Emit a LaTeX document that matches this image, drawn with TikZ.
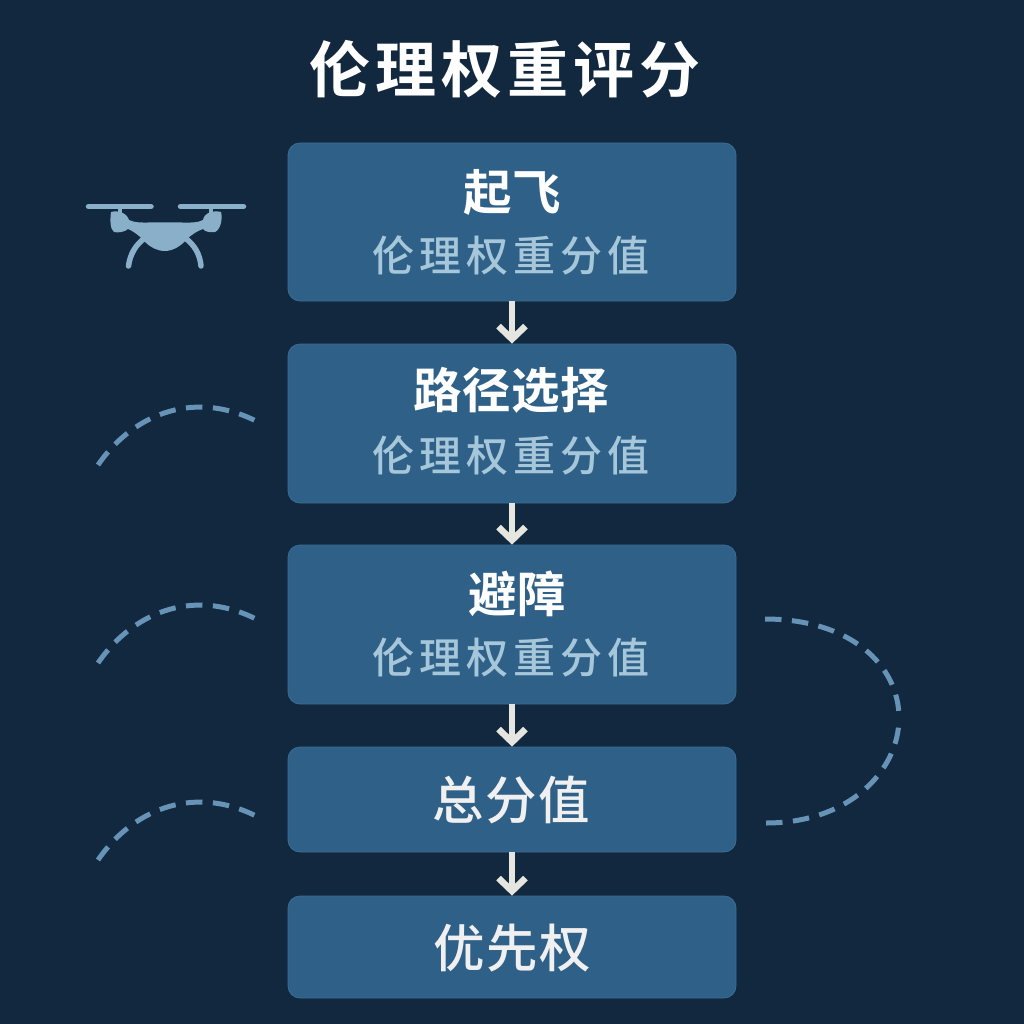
\documentclass[tikz,border=0pt]{standalone}
\usepackage{fontspec}
\usetikzlibrary{arrows.meta}
\newfontfamily\cjkbold[LetterSpace=8.5]{Noto Sans CJK SC Bold}
\newfontfamily\cjkhead[LetterSpace=1]{Noto Sans CJK SC Bold}
\newfontfamily\cjkmed[LetterSpace=3]{Noto Sans CJK SC Medium}
\newfontfamily\cjksub[LetterSpace=12]{Noto Sans CJK SC Medium}
\definecolor{bgc}{HTML}{12283F}
\definecolor{boxc}{HTML}{2F6188}
\definecolor{boxl}{HTML}{3A6D96}
\definecolor{subc}{HTML}{A6C6DA}
\definecolor{arrc}{HTML}{E6E6E1}
\definecolor{dronec}{HTML}{8AAFC9}
\definecolor{dashc}{HTML}{6794B6}
\tikzset{
  stage/.style={rounded corners=12pt,fill=boxc,draw=boxl,line width=0.8pt,minimum width=448pt},
  headtext/.style={text=white,font=\fontsize{48.5}{49}\selectfont\cjkhead,inner sep=0pt},
  subtext/.style={text=subc,font=\fontsize{42}{42}\selectfont\cjksub,inner sep=0pt},
  bigtext/.style={text=white!94!black,font=\fontsize{51.5}{52}\selectfont\cjkmed,inner sep=0pt},
  flow/.style={draw=arrc,line width=6.5pt,-{Straight Barb[length=13pt,width=27pt,line width=6.5pt]}},
  trail/.style={draw=dashc,line width=5pt,dash pattern=on 16.5pt off 10.5pt},
  droneparts/.style={fill=dronec,draw=none},
  dronelines/.style={draw=dronec,line cap=round}
}
\begin{document}
\begin{tikzpicture}[x=1pt,y=-1pt]
\useasboundingbox (0,0) rectangle (1024,1024);
\fill[bgc] (0,0) rectangle (1024,1024);

\node[text=white,font=\fontsize{61}{61}\selectfont\cjkbold,inner sep=0pt] (title) at (505,69) {伦理权重评分};

\node[stage,minimum height=158pt] (b1) at (512,222) {};
\node[stage,minimum height=159pt] (b2) at (512,423.5) {};
\node[stage,minimum height=159pt] (b3) at (512,624.5) {};
\node[stage,minimum height=105pt] (b4) at (512,799.5) {};
\node[stage,minimum height=102pt] (b5) at (512,947) {};

\node[headtext] (h1) at (512,192) {起飞};
\node[subtext] (s1) at (511,256) {伦理权重分值};
\node[headtext] (h2) at (511,390) {路径选择};
\node[subtext] (s2) at (511,456) {伦理权重分值};
\node[headtext] (h3) at (517,594) {避障};
\node[subtext] (s3) at (511,658) {伦理权重分值};
\node[bigtext] (h4) at (511,800) {总分值};
\node[bigtext] (h5) at (512,948) {优先权};

\draw[flow] (b1.south) -- (b2.north);
\draw[flow] (b2.south) -- (b3.north);
\draw[flow] (b3.south) -- (b4.north);
\draw[flow] (b4.south) -- (b5.north);

% drone
\draw[dronelines,line width=5.5pt] (88.5,206.5) -- (151,206.5);
\draw[dronelines,line width=5.5pt] (180.5,206.5) -- (243.5,206.5);
\fill[droneparts] (118,206) rectangle (122,214);
\fill[droneparts] (209,206) rectangle (213,214);
\fill[droneparts] (111,212) .. controls (118,210) and (127,213) .. (129,220)
  .. controls (135,223) and (143,222.5) .. (148,222.5) -- (182,222.5)
  .. controls (190,222.5) and (198,223) .. (203,220)
  .. controls (204,213) and (213,210) .. (221,212)
  .. controls (223,220) and (220,230) .. (215,232)
  .. controls (209,233) and (204,231) .. (203,229)
  .. controls (197,231) and (191,235) .. (186,240)
  .. controls (180,247) and (172,251) .. (165,251)
  .. controls (157,251) and (150,247) .. (145,242)
  .. controls (140,236) and (133,231) .. (128,229)
  .. controls (125,232) and (118,233) .. (114,232)
  .. controls (110,229) and (110,220) .. (111,212) -- cycle;
\draw[dronelines,line width=5.5pt] (145,238) .. controls (135,245) and (130,255) .. (128.5,266);
\draw[dronelines,line width=5.5pt] (185,238) .. controls (195,245) and (200,255) .. (201,266);

% trails
\draw[trail] (98,465) .. controls (130,418) and (190,388) .. (256,421);
\draw[trail] (98,663) .. controls (130,616) and (190,586) .. (256,619);
\draw[trail] (98,860) .. controls (130,813) and (190,783) .. (256,816);
\draw[trail] (765,619) .. controls (850,619) and (899,665) .. (899,718);
\draw[trail] (766,823) .. controls (850,823) and (899,770) .. (899,718);
\end{tikzpicture}
\end{document}
